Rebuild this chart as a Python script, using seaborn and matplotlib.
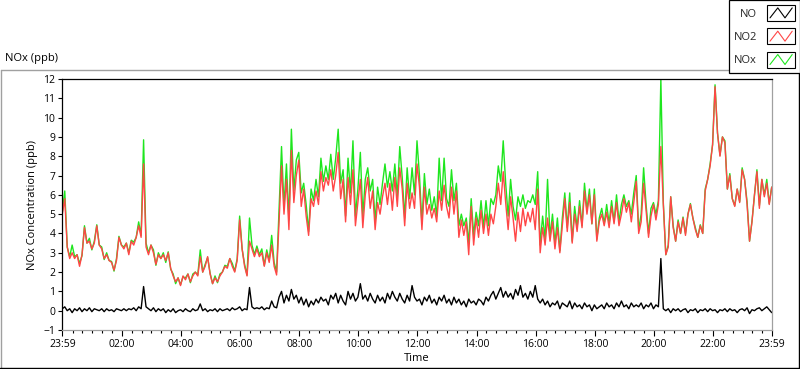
import numpy as np
import pandas as pd
import matplotlib
matplotlib.use("Agg")
import matplotlib.pyplot as plt
import seaborn as sns
from matplotlib.lines import Line2D
from matplotlib.patches import Rectangle
from matplotlib.legend_handler import HandlerLine2D
from matplotlib.ticker import FixedLocator

# 5-minute readings (ppb) from 23:59 to 23:59 next day
no2 = [
    5.0, 5.8, 3.3, 2.7, 3.0, 2.7, 2.9, 2.3, 2.9, 4.3,
    3.5, 3.6, 3.2, 3.5, 4.4, 3.4, 3.2, 2.7, 2.9, 2.6,
    2.5, 2.1, 2.6, 3.8, 3.4, 3.2, 3.5, 2.9, 3.6, 3.4,
    3.8, 4.4, 3.8, 7.6, 3.3, 2.9, 3.4, 3.0, 2.4, 2.9,
    2.7, 2.9, 2.6, 3.0, 2.2, 1.8, 1.5, 1.7, 1.3, 1.8,
    1.6, 1.9, 1.5, 1.8, 2.0, 1.8, 2.8, 2.0, 2.3, 2.8,
    1.9, 1.4, 1.7, 1.5, 1.8, 2.0, 2.3, 2.2, 2.7, 2.3,
    2.0, 2.6, 4.7, 3.2, 2.3, 1.8, 3.6, 3.2, 2.8, 3.2,
    2.8, 3.0, 2.3, 3.0, 2.5, 3.4, 2.3, 1.85, 4.6, 7.5,
    5.0, 6.8, 4.2, 8.3, 5.6, 7.0, 7.8, 5.4, 6.3, 4.9,
    3.9, 5.8, 5.4, 6.2, 5.5, 7.2, 6.2, 6.9, 6.5, 7.3,
    6.2, 7.0, 8.2, 5.8, 6.8, 4.6, 6.9, 5.5, 7.3, 4.4,
    5.6, 6.8, 4.3, 6.0, 6.9, 5.3, 6.2, 4.2, 5.6, 5.0,
    5.9, 6.6, 5.5, 6.6, 5.2, 6.9, 5.4, 7.4, 6.3, 4.4,
    6.6, 5.3, 6.1, 5.3, 7.6, 6.4, 4.2, 6.4, 5.0, 5.5,
    4.8, 5.3, 4.6, 6.2, 5.2, 6.5, 5.4, 4.8, 6.4, 5.0,
    6.2, 3.8, 4.7, 3.9, 4.6, 2.9, 5.4, 3.4, 4.8, 3.8,
    5.2, 4.0, 5.0, 3.9, 5.0, 4.5, 5.4, 6.6, 5.5, 7.2,
    5.6, 4.2, 5.9, 4.8, 3.6, 5.1, 4.1, 5.3, 4.4, 5.1,
    4.6, 5.3, 4.2, 6.3, 3.0, 4.3, 3.4, 4.8, 3.6, 4.6,
    3.2, 4.3, 3.0, 4.4, 5.8, 4.1, 5.6, 3.5, 5.0, 4.1,
    5.4, 4.3, 6.2, 5.0, 6.0, 4.5, 6.0, 3.6, 4.6, 5.0,
    4.4, 5.1, 4.3, 5.4, 4.5, 5.6, 4.4, 5.0, 5.8, 5.1,
    5.6, 4.6, 5.6, 6.7, 4.0, 4.6, 6.6, 5.2, 3.8, 4.9,
    5.5, 4.7, 5.5, 8.5, 5.5, 2.9, 3.3, 5.9, 4.3, 3.6,
    4.6, 4.0, 4.8, 3.9, 5.0, 5.5, 4.8, 4.2, 3.8, 4.4,
    4.0, 6.2, 6.8, 7.5, 8.6, 11.6, 9.2, 8.0, 9.0, 8.7,
    6.3, 7.0, 5.8, 5.4, 6.3, 5.6, 7.3, 6.8, 5.5, 3.6,
    4.6, 6.0, 7.2, 5.3, 6.8, 5.9, 6.6, 5.5, 6.4,
]

nox = [
    5.1, 6.2, 3.3, 2.8, 3.4, 2.8, 2.9, 2.45, 2.85, 4.4,
    3.5, 3.75, 3.15, 3.6, 4.45, 3.4, 3.3, 2.65, 3.0, 2.6,
    2.55, 2.05, 2.7, 3.85, 3.4, 3.3, 3.5, 3.0, 3.65, 3.55,
    3.8, 4.6, 3.9, 8.85, 3.5, 3.0, 3.4, 3.15, 2.35, 3.0,
    2.7, 3.0, 2.5, 3.05, 2.15, 1.9, 1.4, 1.7, 1.35, 1.75,
    1.7, 1.9, 1.45, 1.9, 2.0, 1.85, 3.15, 2.0, 2.4, 2.75,
    1.95, 1.4, 1.8, 1.45, 1.9, 2.0, 2.35, 2.3, 2.7, 2.45,
    2.05, 2.7, 4.9, 3.2, 2.4, 1.85, 4.8, 3.4, 2.9, 3.35,
    2.9, 3.2, 2.35, 3.15, 2.6, 3.9, 2.5, 2.0, 5.3, 8.5,
    5.4, 7.6, 4.7, 9.4, 6.2, 7.8, 8.2, 6.1, 6.6, 5.5,
    4.1, 6.3, 5.7, 6.8, 5.9, 7.9, 6.7, 7.5, 6.8, 8.1,
    6.8, 7.9, 9.4, 6.6, 7.3, 4.9, 7.9, 6.1, 8.8, 4.9,
    6.3, 8.2, 4.9, 6.8, 7.4, 6.2, 6.8, 4.6, 6.4, 5.5,
    6.6, 7.6, 6.4, 7.2, 6.2, 7.6, 5.9, 8.5, 6.9, 4.8,
    7.4, 5.8, 7.4, 6.0, 8.8, 7.0, 4.5, 7.1, 5.5, 6.3,
    5.2, 5.9, 4.9, 7.9, 5.7, 7.9, 5.8, 5.4, 7.3, 5.7,
    6.6, 4.4, 5.0, 4.4, 4.8, 3.5, 5.8, 3.9, 5.1, 4.4,
    5.7, 4.3, 5.7, 4.4, 5.8, 5.5, 6.0, 7.5, 6.7, 8.8,
    6.6, 4.9, 6.8, 5.4, 4.7, 5.9, 5.4, 6.0, 5.3, 5.7,
    5.6, 6.0, 5.5, 7.2, 3.4, 4.9, 3.7, 6.8, 3.8, 5.0,
    3.5, 4.8, 3.1, 4.8, 6.1, 4.3, 6.1, 3.6, 5.4, 4.3,
    5.7, 4.4, 6.6, 5.2, 6.3, 4.5, 6.3, 3.7, 4.8, 5.3,
    4.5, 5.5, 4.5, 5.7, 4.6, 6.0, 4.6, 5.5, 6.0, 5.4,
    5.7, 5.0, 6.1, 7.0, 4.2, 5.0, 7.4, 5.5, 4.0, 5.3,
    5.6, 5.0, 5.7, 12.0, 5.6, 2.9, 3.4, 5.9, 4.4, 3.6,
    4.7, 4.0, 4.85, 4.0, 5.0, 5.55, 4.8, 4.3, 3.8, 4.45,
    4.0, 6.3, 6.8, 7.6, 8.6, 11.7, 9.2, 8.05, 9.0, 8.8,
    6.3, 7.1, 5.8, 5.45, 6.3, 5.65, 7.4, 6.8, 5.65, 3.6,
    4.65, 6.0, 7.3, 5.45, 6.8, 6.0, 6.8, 5.55, 6.4,
]

no = [
    0.1, 0.2, 0.0, 0.1, -0.1, 0.1, 0.0, 0.15, -0.05, 0.1,
    0.0, 0.15, -0.05, 0.1, 0.05, 0.0, 0.1, -0.05, 0.1, 0.0,
    0.05, -0.05, 0.1, 0.05, 0.0, 0.1, 0.0, 0.1, 0.05, 0.15,
    0.0, 0.2, 0.1, 1.25, 0.2, 0.1, 0.0, 0.15, -0.05, 0.1,
    0.0, 0.1, -0.1, 0.05, -0.05, 0.1, -0.1, 0.0, 0.05, -0.05,
    0.1, 0.0, -0.05, 0.1, 0.0, 0.05, 0.35, 0.0, 0.1, -0.05,
    0.05, 0.0, 0.1, -0.05, 0.1, 0.0, 0.05, 0.1, 0.0, 0.15,
    0.05, 0.1, 0.2, 0.0, 0.1, 0.05, 1.2, 0.2, 0.1, 0.15,
    0.1, 0.2, 0.05, 0.15, 0.1, 0.5, 0.2, 0.15, 0.7, 1.0,
    0.4, 0.8, 0.5, 1.1, 0.6, 0.8, 0.4, 0.7, 0.3, 0.6,
    0.2, 0.5, 0.3, 0.6, 0.4, 0.7, 0.5, 0.6, 0.3, 0.8,
    0.6, 0.9, 0.4, 0.8, 0.5, 0.3, 1.0, 0.6, 0.9, 0.5,
    0.7, 1.4, 0.6, 0.8, 0.5, 0.9, 0.6, 0.4, 0.8, 0.5,
    0.7, 0.4, 0.9, 0.6, 1.0, 0.7, 0.5, 0.9, 0.6, 0.4,
    0.8, 0.5, 1.3, 0.7, 0.5, 0.6, 0.3, 0.7, 0.5, 0.8,
    0.4, 0.6, 0.3, 0.7, 0.5, 0.8, 0.4, 0.6, 0.3, 0.7,
    0.4, 0.6, 0.3, 0.5, 0.2, 0.6, 0.4, 0.5, 0.3, 0.6,
    0.5, 0.3, 0.7, 0.5, 0.8, 1.0, 0.6, 0.9, 1.2, 0.7,
    1.0, 0.7, 0.9, 0.6, 1.1, 0.8, 1.3, 0.7, 0.9, 0.6,
    1.0, 0.7, 1.3, 0.6, 0.4, 0.6, 0.3, 0.5, 0.2, 0.4,
    0.3, 0.5, 0.1, 0.4, 0.3, 0.2, 0.5, 0.1, 0.4, 0.2,
    0.3, 0.1, 0.4, 0.2, 0.3, 0.0, 0.3, 0.1, 0.2, 0.3,
    0.1, 0.4, 0.2, 0.3, 0.1, 0.4, 0.2, 0.5, 0.2, 0.3,
    0.1, 0.4, 0.2, 0.3, 0.2, 0.4, 0.1, 0.3, 0.2, 0.4,
    0.1, 0.3, 0.2, 2.7, 0.1, 0.0, 0.1, -0.1, 0.1, 0.0,
    0.1, -0.05, 0.05, 0.1, -0.1, 0.05, 0.0, 0.1, -0.1, 0.05,
    0.0, 0.1, -0.05, 0.1, 0.0, 0.05, -0.1, 0.05, 0.0, 0.1,
    -0.05, 0.1, 0.0, 0.05, -0.1, 0.05, 0.1, 0.0, 0.15, -0.15,
    0.05, 0.0, 0.1, 0.15, 0.0, 0.1, 0.2, 0.05, -0.1,
]

# x ticks, minutes after 23:59
tick_minutes = [0, 121, 241, 361, 481, 601, 721, 841, 961, 1081, 1201, 1321, 1440]
tick_labels = ["23:59", "02:00", "04:00", "06:00", "08:00", "10:00", "12:00",
               "14:00", "16:00", "18:00", "20:00", "22:00", "23:59"]

df = pd.DataFrame({"Minute": np.arange(len(no2)) * 5, "NO": no, "NO2": no2, "NOx": nox})

sns.set_theme(style="white")
plt.rcParams["font.family"] = ["Open Sans", "DejaVu Sans"]

W, H = 800, 369
fig = plt.figure(figsize=(W / 100, H / 100), dpi=100, facecolor="white")
ax = fig.add_axes([62.3 / W, 1 - 330 / H, (771.7 - 62.3) / W, (330 - 79) / H])

c_nox, c_no2, c_no = "#1ee61e", "#ff4646", "black"
for col, c in [("NOx", c_nox), ("NO2", c_no2), ("NO", c_no)]:
    sns.lineplot(data=df, x="Minute", y=col, color=c, lw=1.0, ax=ax, estimator=None)

ax.set_xlim(0, 1440)
ax.set_ylim(-1, 12)
ax.set_yticks(range(-1, 13))
ax.xaxis.set_major_locator(FixedLocator(tick_minutes))
ax.set_xticklabels(tick_labels)
ax.xaxis.set_minor_locator(FixedLocator(range(21, 1440, 20)))

ax.set_xlabel("Time", fontsize=8, labelpad=2, color="black")
ax.set_ylabel("NOx Concentration (ppb)", fontsize=8, labelpad=4, color="black")

ax.tick_params(axis="both", which="both", direction="out", colors="black",
               labelsize=7.5, width=0.8)
ax.tick_params(axis="x", which="major", length=4.5, pad=2, bottom=True)
ax.tick_params(axis="x", which="minor", length=2.5, bottom=True)
ax.tick_params(axis="y", which="major", length=3, pad=2, left=True)

for side in ["top", "left"]:
    ax.spines[side].set_color("black")
    ax.spines[side].set_linewidth(0.9)
for side in ["right", "bottom"]:
    ax.spines[side].set_color("#a0a0a0")
    ax.spines[side].set_linewidth(0.9)

# outer panel frame
def fx(px):
    return px / W

def fy(py):
    return 1 - py / H

fig.add_artist(Line2D([fx(0.5), fx(730)], [fy(69.5), fy(69.5)], color="#a0a0a0", lw=1))
fig.add_artist(Line2D([fx(0.5), fx(0.5)], [fy(69.5), fy(369)], color="#a0a0a0", lw=1))
fig.add_artist(Line2D([fx(0), fx(800)], [fy(368), fy(368)], color="black", lw=1))
fig.add_artist(Line2D([fx(799), fx(799)], [fy(71), fy(369)], color="black", lw=1))

fig.text(fx(5), fy(59), "NOx (ppb)", fontsize=8, va="center", ha="left", color="black")


class ZigzagHandler(HandlerLine2D):
    def create_artists(self, legend, orig_handle, xdescent, ydescent,
                       width, height, fontsize, trans):
        x0, y0 = -xdescent, -ydescent
        xs = x0 + width * np.array([0.1, 0.38, 0.64, 0.9])
        ys = y0 + height * np.array([0.2, 0.82, 0.2, 0.82])
        zz = Line2D(xs, ys, color=orig_handle.get_color(), lw=0.8, transform=trans)
        box = Rectangle((x0, y0), width, height, fill=False, edgecolor="black",
                        lw=0.8, transform=trans)
        return [box, zz]


handles = [Line2D([], [], color=c) for c in (c_no, c_no2, c_nox)]
leg = fig.legend(handles, ["NO", "NO2", "NOx"], loc="upper right",
                 bbox_to_anchor=(1.0, 1.0), markerfirst=False, fontsize=8,
                 frameon=True, fancybox=False, framealpha=1, edgecolor="black",
                 handlelength=2.5, handleheight=1.85, labelspacing=0.65,
                 handletextpad=0.9, borderpad=0.45, borderaxespad=0,
                 handler_map={Line2D: ZigzagHandler()})
leg.get_frame().set_linewidth(0.9)

fig.savefig("out.png", dpi=100, facecolor="white")
